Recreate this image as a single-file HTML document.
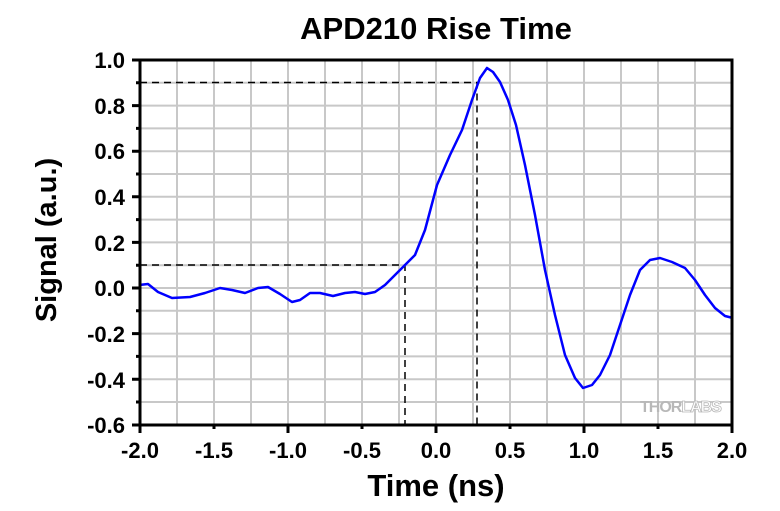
<!DOCTYPE html><html><head><style>body{margin:0;background:#fff}svg{display:block}text{font-family:"Liberation Sans",Arial,sans-serif;font-weight:bold}</style></head><body>
<svg width="780" height="511" xmlns="http://www.w3.org/2000/svg">
<g stroke="#c8c8c8" stroke-width="2">
<path d="M177 60V425M214 60V425M251 60V425M288 60V425M325 60V425M362 60V425M399 60V425M436 60V425M473 60V425M510 60V425M547 60V425M584 60V425M621 60V425M658 60V425M695 60V425"/>
<path d="M140 82.8H732M140 105.6H732M140 128.4H732M140 151.2H732M140 174H732M140 196.8H732M140 219.6H732M140 242.4H732M140 265.2H732M140 288H732M140 310.8H732M140 333.6H732M140 356.4H732M140 379.2H732M140 402H732"/>
</g>
<g stroke="#000" stroke-width="1.5" stroke-dasharray="7,5" fill="none">
<path d="M140 82.5H477V425"/><path d="M140 265H405V425"/>
</g>
<polyline fill="none" stroke="#0000ff" stroke-width="2.5" stroke-linejoin="round" points="139,285 148,284 158,292 172,298 190,297 205,293 220,288 232,290 245,293 258,288 268,287 280,294 292,302 300,300 310,293 320,293 333,296 345,293 355,292 365,294 375,292 385,285 395,275 405,265 415,255 425,230 437,185 450,155 462,130 472,100 480,78 487,68 493,72 500,82 508,100 516,125 525,165 535,215 545,270 555,315 565,355 575,378 583,388 592,385 600,375 610,355 620,325 630,295 640,270 650,260 660,258 672,262 685,268 695,280 705,295 715,308 725,316 733,318"/>
<text x="640" y="412" font-size="16" fill="#b8b8b8" letter-spacing="-1">THOR<tspan fill="#fff" stroke="#b8b8b8" stroke-width="0.8">LABS</tspan></text>
<rect x="140" y="60" width="592" height="365" fill="none" stroke="#000" stroke-width="3"/>
<g stroke="#000" stroke-width="3">
<path d="M140 425v8M214 425v4M288 425v8M362 425v4M436 425v8M510 425v4M584 425v8M658 425v4M732 425v8"/>
<path d="M140 60h-8M140 82.8h-4M140 105.6h-8M140 128.4h-4M140 151.2h-8M140 174h-4M140 196.8h-8M140 219.6h-4M140 242.4h-8M140 265.2h-4M140 288h-8M140 310.8h-4M140 333.6h-8M140 356.4h-4M140 379.2h-8M140 402h-4M140 425h-8"/>
</g>
<g font-size="22" text-anchor="end">
<text x="125" y="68">1.0</text><text x="125" y="114">0.8</text><text x="125" y="159">0.6</text><text x="125" y="205">0.4</text><text x="125" y="251">0.2</text><text x="125" y="296">0.0</text><text x="125" y="342">-0.2</text><text x="125" y="388">-0.4</text><text x="125" y="433">-0.6</text>
</g>
<g font-size="22" text-anchor="middle">
<text x="140" y="458">-2.0</text><text x="214" y="458">-1.5</text><text x="288" y="458">-1.0</text><text x="362" y="458">-0.5</text><text x="436" y="458">0.0</text><text x="510" y="458">0.5</text><text x="584" y="458">1.0</text><text x="658" y="458">1.5</text><text x="732" y="458">2.0</text>
</g>
<text x="436" y="39" font-size="31" text-anchor="middle">APD210 Rise Time</text>
<text x="436" y="496" font-size="31" text-anchor="middle">Time (ns)</text>
<text transform="translate(56,240) rotate(-90)" font-size="29" text-anchor="middle">Signal (a.u.)</text>
</svg></body></html>
